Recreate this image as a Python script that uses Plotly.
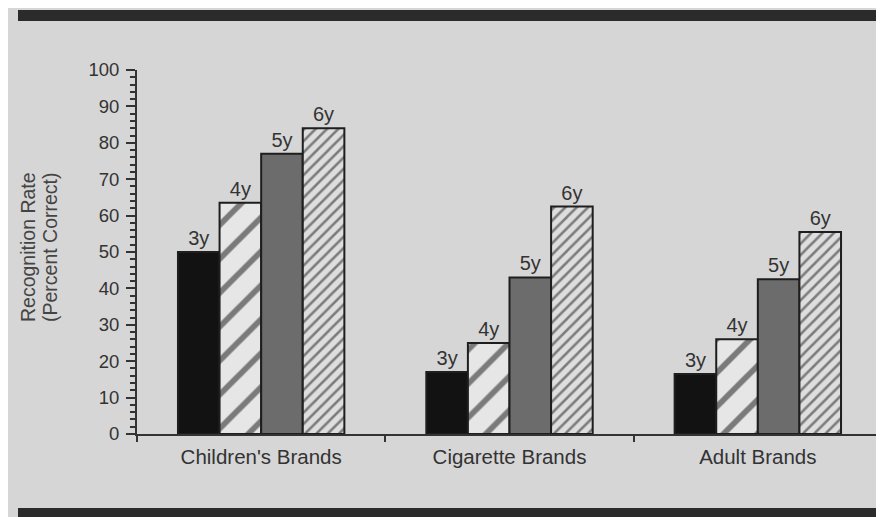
import plotly.graph_objects as go

categories = ["Children's Brands", "Cigarette Brands", "Adult Brands"]
ages = ["3y", "4y", "5y", "6y"]
values_3y = [50, 17, 16.5]
values_4y = [63.5, 25, 26]
values_5y = [77, 43, 42.5]
values_6y = [84, 62.5, 55.5]
y_ticks = [0, 10, 20, 30, 40, 50, 60, 70, 80, 90, 100]

series = [values_3y, values_4y, values_5y, values_6y]

# page has an 8px body margin; work in screen coords and convert
OFF = 8
W, H = 884 - OFF, 517 - OFF
L, T = 137 - OFF, 70 - OFF
R = W - (882 - OFF)
B = H - (434 - OFF)
pw, ph = W - L - R, H - T - B

def px(x):
    return (x - OFF - L) / pw

def py(y):
    return (H - B - (y - OFF)) / ph

font_family = "Liberation Sans, Arial, sans-serif"
line = dict(color="#1e1e1e", width=2)
styles = [
    dict(color="#121212", line=line),
    dict(color="#e6e6e6", line=line,
         pattern=dict(shape="/", size=24, solidity=0.24, fgcolor="#0e0e0e", bgcolor="#e6e6e6", fillmode="overlay")),
    dict(color="#6c6c6c", line=line),
    dict(color="#dedede", line=line,
         pattern=dict(shape="/", size=8, solidity=0.32, fgcolor="#1a1a1a", bgcolor="#dedede", fillmode="overlay")),
]

fig = go.Figure()
for age, vals, st in zip(ages, series, styles):
    fig.add_trace(go.Bar(
        x=categories, y=vals, name=age, marker=st,
        text=[age] * len(vals), textposition="outside",
        textfont=dict(family=font_family, size=20, color="#333333"),
        cliponaxis=False, showlegend=False,
    ))

bg = "#d6d6d6"
fig.update_layout(
    width=W, height=H,
    margin=dict(l=L, r=R, t=T, b=B),
    paper_bgcolor=bg, plot_bgcolor=bg,
    barmode="group", bargap=0.33, bargroupgap=0,
    font=dict(family=font_family, color="#333333"),
    xaxis=dict(
        range=[-0.5, 2.5], showline=True, linecolor="#333333", linewidth=2,
        ticks="outside", tickson="boundaries", ticklen=6, tickwidth=2, tickcolor="#333333",
        tickfont=dict(size=20.5, color="#333333"), ticklabelstandoff=3,
        showgrid=False, zeroline=False,
    ),
    yaxis=dict(
        range=[0, 100], tickvals=y_ticks, showline=True, linecolor="#333333", linewidth=2,
        ticks="outside", ticklen=9, tickwidth=2, tickcolor="#333333",
        minor=dict(dtick=2, ticks="outside", ticklen=5, tickwidth=2, tickcolor="#333333"),
        tickfont=dict(size=18.5, color="#333333"), ticklabelstandoff=3,
        showgrid=False, zeroline=False,
    ),
    annotations=[
        dict(text="Recognition Rate", textangle=-90,
             xref="paper", yref="paper", x=px(28), y=py(247),
             xanchor="center", yanchor="middle", showarrow=False,
             font=dict(size=19.5, color="#444444")),
        dict(text="(Percent Correct)", textangle=-90,
             xref="paper", yref="paper", x=px(50), y=py(247),
             xanchor="center", yanchor="middle", showarrow=False,
             font=dict(size=19.5, color="#444444")),
    ],
    shapes=[
        dict(type="rect", xref="paper", yref="paper", x0=px(18), x1=px(900), y0=py(21), y1=py(10),
             fillcolor="#2b2b2b", line=dict(width=0)),
        dict(type="rect", xref="paper", yref="paper", x0=px(18), x1=px(900), y0=py(530), y1=py(508),
             fillcolor="#2b2b2b", line=dict(width=0)),
    ],
)

fig.write_html("out.html")
